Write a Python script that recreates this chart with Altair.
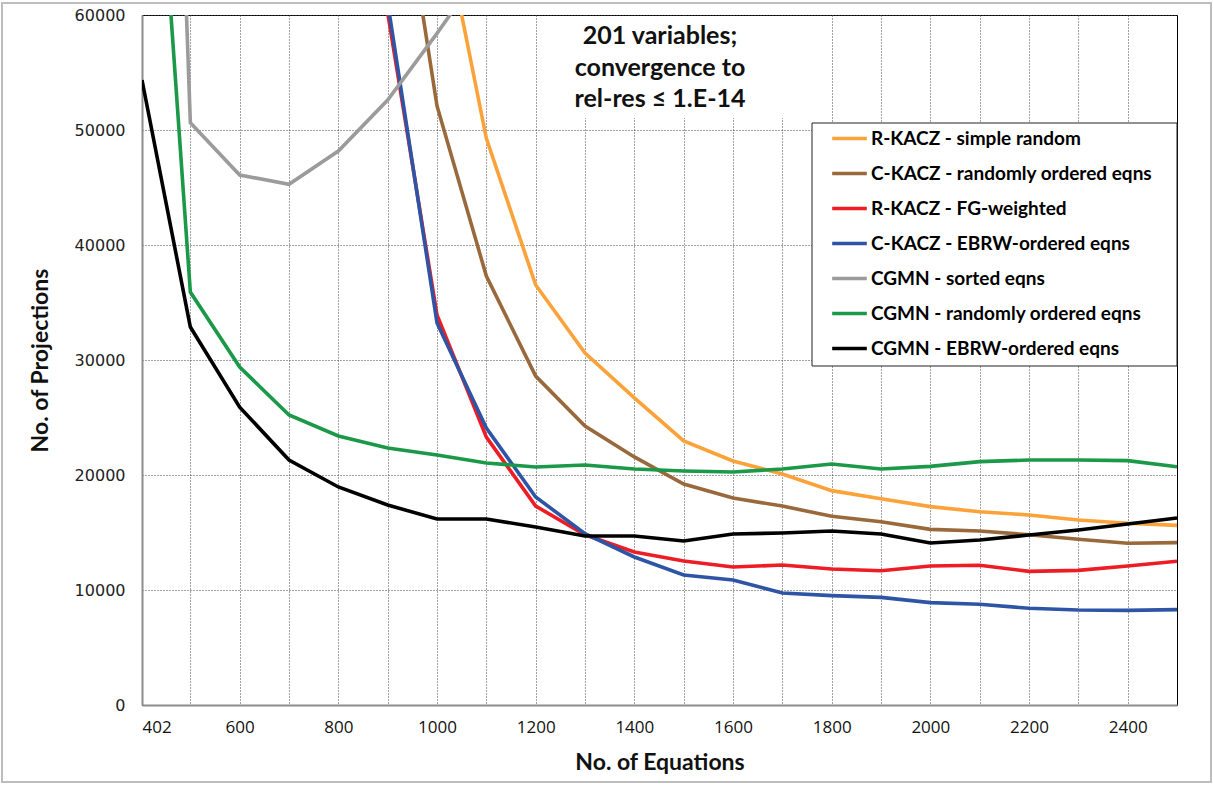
import altair as alt
import pandas as pd

x_vals = [402, 500, 600, 700, 800, 900, 1000, 1100, 1200, 1300, 1400, 1500,
          1600, 1700, 1800, 1900, 2000, 2100, 2200, 2300, 2400, 2500]

series_names = [
    "R-KACZ - simple random",
    "C-KACZ - randomly ordered eqns",
    "R-KACZ - FG-weighted",
    "C-KACZ - EBRW-ordered eqns",
    "CGMN - sorted eqns",
    "CGMN - randomly ordered eqns",
    "CGMN - EBRW-ordered eqns",
]
colors = ["#FBA33A", "#99693C", "#EE1C25", "#2E55A5", "#9B9B9B", "#1B9848", "#000000"]

r_kacz_simple = [None] * 6 + [70700, 49280, 36520, 30610, 26700, 22960, 21220, 20090,
                              18640, 17940, 17250, 16810, 16520, 16090, 15800, 15620]
c_kacz_random = [None] * 5 + [79700, 52090, 37300, 28600, 24260, 21570, 19220, 18000,
                              17300, 16410, 15940, 15270, 15130, 14810, 14410, 14060, 14120]
r_kacz_fg = [None] * 5 + [60200, 33910, 23300, 17300, 14800, 13300, 12520, 12000,
                          12170, 11830, 11680, 12090, 12150, 11620, 11710, 12090, 12500]
c_kacz_ebrw = [None] * 5 + [61100, 33220, 24090, 18090, 14900, 12870, 11300, 10870,
                            9740, 9510, 9360, 8900, 8760, 8410, 8260, 8230, 8290]
cgmn_sorted = [168000, 50640, 46090, 45280, 48170, 52610, 58400, 64500] + [None] * 14
cgmn_random = [96000, 35910, 29390, 25220, 23390, 22350, 21740, 21040, 20700, 20870, 20520,
               20350, 20260, 20520, 20960, 20520, 20750, 21160, 21300, 21300, 21250, 20720]
cgmn_ebrw = [54350, 32870, 25900, 21300, 18960, 17390, 16170, 16170, 15480, 14700, 14700,
             14260, 14870, 14960, 15130, 14870, 14090, 14350, 14780, 15220, 15740, 16260]

y_ticks = [0, 10000, 20000, 30000, 40000, 50000, 60000]
x_grid = [402] + list(range(500, 2500, 100))
x_labels = [402, 600, 800, 1000, 1200, 1400, 1600, 1800, 2000, 2200, 2400]

all_series = [r_kacz_simple, c_kacz_random, r_kacz_fg, c_kacz_ebrw,
              cgmn_sorted, cgmn_random, cgmn_ebrw]

rows = []
for si, (name, vals) in enumerate(zip(series_names, all_series)):
    for x, v in zip(x_vals, vals):
        if v is not None:
            rows.append({"series": name, "order": si, "eqns": x, "proj": v})
df = pd.DataFrame(rows)

label_test = " || ".join(f"datum.value == {v}" for v in x_labels)

lines = alt.Chart(df).mark_line(clip=True, strokeWidth=3.6).encode(
    x=alt.X("eqns:Q",
            scale=alt.Scale(domain=[402, 2500], nice=False, zero=False),
            axis=alt.Axis(values=x_grid, labelExpr=f"({label_test}) ? datum.label : ''",
                          format="d", labelOverlap=False, title="No. of Equations",
                          grid=True, gridColor="#444", gridDash=[1, 2], gridWidth=1,
                          gridOpacity=1, domainColor="#8C8C8C", domainWidth=2,
                          ticks=False, labelFont="Open Sans", labelFontSize=17,
                          labelColor="#111", labelPadding=14,
                          titleFont="Lato", titleFontSize=23, titleFontWeight="bold",
                          titleColor="#111", titlePadding=16)),
    y=alt.Y("proj:Q",
            scale=alt.Scale(domain=[0, 60000], nice=False),
            axis=alt.Axis(values=y_ticks, format="d", title="No. of Projections",
                          grid=True, gridColor="#444", gridDash=[1, 2], gridWidth=1,
                          gridOpacity=1, domainColor="#8C8C8C", domainWidth=2,
                          ticks=False, labelFont="DejaVu Sans", labelFontSize=16,
                          labelColor="#222", labelPadding=17,
                          titleFont="Lato", titleFontSize=23, titleFontWeight="bold",
                          titleColor="#111", titlePadding=22)),
    color=alt.Color("series:N",
                    scale=alt.Scale(domain=series_names, range=colors),
                    legend=alt.Legend(title=None, orient="none", legendX=688, legendY=104,
                                      symbolType="stroke", symbolSize=1200,
                                      symbolStrokeWidth=3.6, labelFont="Lato",
                                      labelFontWeight="bold", labelFontSize=19,
                                      labelColor="#000", rowPadding=5, labelOffset=2,
                                      labelLimit=400, padding=0)),
    detail="series:N",
    order=alt.Order("eqns:Q"),
)

note_df = pd.DataFrame({"t": ["201 variables;\nconvergence to\nrel-res \u2264 1.E-14"]})
note_box = alt.Chart(note_df).mark_rect(fill="white").encode(
    x=alt.value(395), x2=alt.value(641), y=alt.value(1), y2=alt.value(103))
note = alt.Chart(note_df).mark_text(font="Lato", fontWeight="bold", fontSize=25,
                                    align="center", baseline="top", lineBreak="\n",
                                    lineHeight=31.5, color="#111").encode(
    text="t:N", x=alt.value(518), y=alt.value(9))

legend_box = alt.Chart(note_df).mark_rect(fill="white", stroke="#222", strokeWidth=1).encode(
    x=alt.value(670), x2=alt.value(1035), y=alt.value(108), y2=alt.value(351))

frame = alt.Chart(note_df).mark_rect(fill="transparent", stroke="#BDBDBD", strokeWidth=2).encode(
    x=alt.value(-140), x2=alt.value(1069), y=alt.value(-12), y2=alt.value(767))

chart = alt.layer(frame, note_box, legend_box, lines, note).properties(
    width=1035, height=690,
    padding={"left": 142, "top": 15, "right": 36, "bottom": 80},
    autosize=alt.AutoSizeParams(type="none"),
    background="white",
).configure_view(stroke="#000", strokeWidth=1)

chart.save("out.html", embed_options={"renderer": "svg", "actions": False})
